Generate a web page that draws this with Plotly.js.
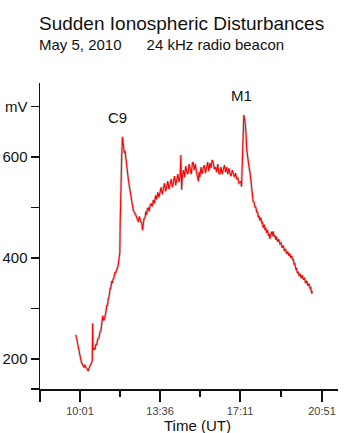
<!DOCTYPE html>
<html>
<head>
<meta charset="utf-8">
<script src="https://cdn.plot.ly/plotly-3.0.1.min.js"></script>
<style>
html,body{margin:0;padding:0;background:#fff;}
#chart{width:360px;height:433px;}
</style>
</head>
<body>
<div id="chart"></div>
<script>
// Time in minutes after midnight (UT) and signal in mV, by segment
const morningTime = [590,592,594,596,598,601,603,605,607,610,612,614,616,619,621,623,625,628,630,632,634,635,636,639,641,644,646,649,652,655,657,659,661,662,665,668,670,673,675,677,679,682,684,686,688,690,692,695,697,700,702,704,706,708];
const morningMV   = [248,240,236,220,214,208,200,193,190,186,183,189,184,182,179,176,181,185,188,192,196,271,218,222,218,230,228,240,242,254,256,266,274,286,276,284,290,306,306,320,322,340,340,354,350,358,360,372,370,378,380,388,396,410];
const c9Time = [709,711,713,715,716,717,719,720,722,724,726,728,731,733,735,738,740,742,744,746,749,751,753,755,758,760,762,764,767,769,771,773,776,778,780,782,785,787,789,792,795];
const c9MV   = [470,555,600,640,632,628,620,608,612,596,580,568,555,545,535,522,515,505,495,492,489,485,481,476,471,482,479,472,469,455,475,478,481,492,486,498,499,492,503,508,502];
const dayTime = [798,801,804,807,810,813,816,819,822,825,828,831,834,837,840,843,846,849,852,855,858,861,864,867,870,872,874,876,879,882,885,888,891,894,897,900,903,905,908,911,914,917,919,921,923,926,929,932,935,938,941,944,947,950,953,956,959,962,965,968,971,974,977,980,983,986,989,992,995,998,1001,1004,1007,1010,1013,1016,1019,1022,1025,1028,1031];
const dayMV   = [515,508,524,516,530,520,534,540,526,542,548,532,544,552,536,548,556,540,552,562,544,558,566,550,562,604,535,562,574,560,582,570,566,586,576,566,588,590,574,586,570,562,552,570,560,580,566,578,584,568,582,590,572,588,578,594,588,576,580,570,586,568,566,580,566,578,584,570,580,566,578,566,562,574,564,560,568,556,558,548,550];
const m1Time = [1033,1035,1037,1039,1041,1043,1044,1046,1047,1049,1051,1053,1055,1058];
const m1MV   = [552,541,600,650,683,676,673,655,647,614,600,594,580,568];
const eveningTime = [1060,1062,1064,1066,1069,1071,1073,1076,1078,1080,1082,1084,1087,1089,1091,1093,1096,1098,1100,1102,1105,1107,1109,1111,1114,1116,1118,1120,1122,1125,1127,1129,1132,1135,1138,1141,1144,1147,1150,1153,1156,1159,1162,1165,1167,1170,1172,1174,1176,1178,1181,1183,1185,1187,1190,1192,1195,1198,1201,1204,1207,1210,1213,1216,1219,1221,1223,1226];
const eveningMV   = [550,535,525,512,510,500,502,490,492,480,484,474,480,470,471,460,466,455,460,450,455,444,448,438,448,452,444,453,442,445,436,442,432,437,428,430,420,425,414,418,408,413,404,409,400,404,396,398,388,389,378,379,370,373,364,369,360,366,357,361,350,355,345,349,340,341,330,334];

const timeMin = [].concat(morningTime, c9Time, dayTime, m1Time, eveningTime);
const signalMV = [].concat(morningMV, c9MV, dayMV, m1MV, eveningMV);

const xTickVals = [601, 816, 1031, 1251];
const xTickText = ["10:01", "13:36", "17:11", "20:51"];
const xMinorVals = [708, 923, 1141];
const yTickVals = [200, 300, 400, 500, 600, 700];
const yTickText = ["200", "", "400", "", "600", "mV"];
const flareLabels = ["C9", "M1"];
const flareTime = [702, 1036];
const flareMV = [679, 721];

const xRange = [493.6, 1294];
const yRange = [140.6, 746.5];
const FONT = 'Arial, Liberation Sans, sans-serif';

const traces = [
  {x: timeMin, y: signalMV, type: 'scatter', mode: 'lines',
   line: {color: 'rgba(130,130,130,0.4)', width: 2.6}, hoverinfo: 'skip', showlegend: false},
  {x: timeMin, y: signalMV, type: 'scatter', mode: 'lines',
   line: {color: '#ff0000', width: 1.1}, showlegend: false}
];

const annotations = flareLabels.map((t, i) => ({
  x: flareTime[i], y: flareMV[i], xref: 'x', yref: 'y', text: t, showarrow: false,
  font: {family: FONT, size: 15, color: '#111'}
}));
annotations.push({
  xref: 'paper', yref: 'paper', x: 0, y: 1, xanchor: 'left', yanchor: 'middle',
  yshift: 83 - 44, xshift: -3,
  text: 'May 5, 2010\u00a0\u00a0\u00a0\u00a0\u00a0 24 kHz radio beacon', showarrow: false,
  font: {family: FONT, size: 15, color: '#111'}
});
annotations.push({
  xref: 'paper', yref: 'paper', x: 0.5, y: 0, xanchor: 'center', yanchor: 'middle',
  xshift: 8, yshift: -36,
  text: 'Time (UT)', showarrow: false,
  font: {family: FONT, size: 15, color: '#111'}
});

const layout = {
  width: 360, height: 433,
  margin: {l: 40, r: 22, t: 83, b: 44, pad: 0},
  paper_bgcolor: '#fff', plot_bgcolor: '#fff',
  title: {text: 'Sudden Ionospheric Disturbances', x: 39/360, xanchor: 'left', xref: 'container',
          y: 1 - 23/433, yanchor: 'middle', yref: 'container',
          font: {family: FONT, size: 19, color: '#111'}},
  xaxis: {range: xRange, showgrid: false, zeroline: false, showline: true, linecolor: '#111', linewidth: 1.5,
          tickmode: 'array', tickvals: [xRange[0]].concat(xTickVals), ticktext: [''].concat(xTickText),
          ticks: 'outside', ticklen: 11, tickwidth: 1.5, tickcolor: '#111',
          tickfont: {family: FONT, size: 11, color: '#444'},
          minor: {tickmode: 'array', tickvals: xMinorVals, ticks: 'outside', ticklen: 6, tickwidth: 1.5, tickcolor: '#111', showgrid: false},
          fixedrange: true},
  yaxis: {range: yRange, showgrid: false, zeroline: false, showline: true, linecolor: '#111', linewidth: 1.5,
          tickmode: 'array', tickvals: [yRange[0]].concat(yTickVals), ticktext: [''].concat(yTickText),
          ticks: 'outside', ticklen: 8, tickwidth: 1.5, tickcolor: '#111',
          tickfont: {family: FONT, size: 15, color: '#111'},
          fixedrange: true},
  annotations: annotations,
  showlegend: false
};

Plotly.newPlot('chart', traces, layout, {displayModeBar: false, staticPlot: true});
</script>
</body>
</html>
